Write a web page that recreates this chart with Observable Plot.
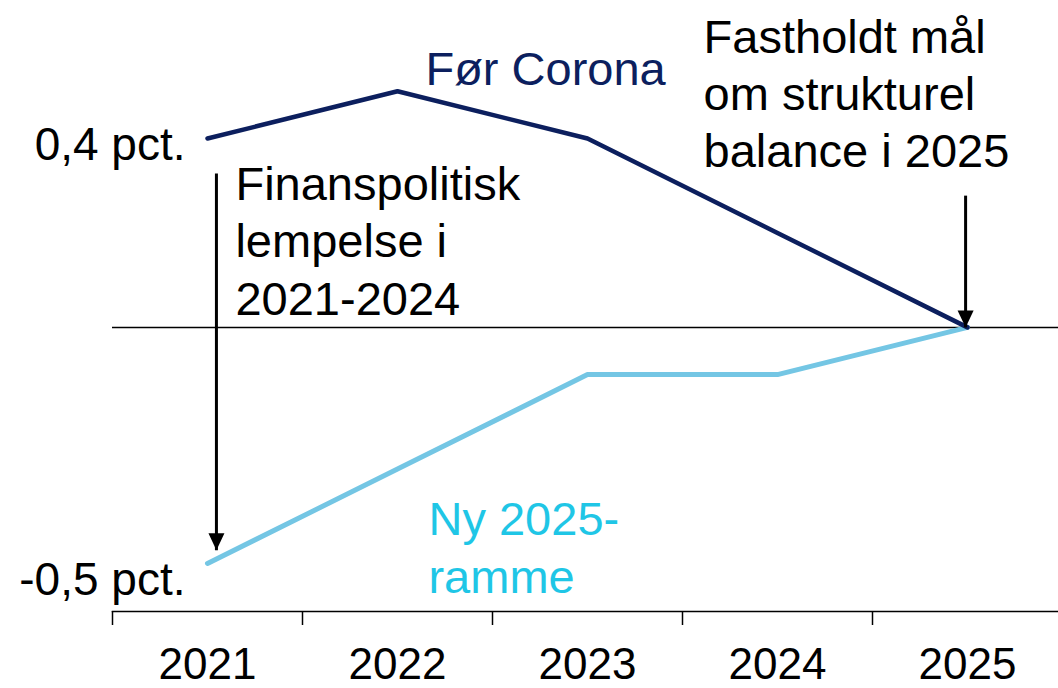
<!DOCTYPE html>
<html><head><meta charset="utf-8">
<script src="https://cdn.jsdelivr.net/npm/d3@7"></script>
<script src="https://cdn.jsdelivr.net/npm/@observablehq/plot@0.6"></script>
<style>
html,body{margin:0;padding:0;background:#fff;color:#000;}
</style>
</head><body><div id="chart"></div>
<script>
// ---- data ----
const years = [2021, 2022, 2023, 2024, 2025];
const forCorona = [0.4, 0.5, 0.4, 0.2, 0.0];
const ny2025 = [-0.5, -0.3, -0.1, -0.1, 0.0];
const seriesNames = ["Før Corona", "Ny 2025-ramme"];
const seriesLabels = ["Før Corona", "Ny 2025-\nramme"];
const yTickValues = [0.4, -0.5];
const yTickLabels = ["0,4 pct.", "-0,5 pct."];
const bandEdges = [2020.5, 2021.5, 2022.5, 2023.5, 2024.5, 2025.5];
// annotation anchors (data units)
const seriesLabelX = [2022.147, 2022.163];
const seriesLabelY = [0.600, -0.354];
const noteTexts = ["Finanspolitisk\nlempelse i\n2021-2024", "Fastholdt mål\nom strukturel\nbalance i 2025"];
const noteX = [2021.147, 2023.611];
const noteY = [0.356, 0.668];
const arrowX = [2021.047, 2024.99];
const arrowFrom = [0.326, 0.279];
const arrowTo = [-0.472, 0.0];

// ---- tables ----
const rowsA = years.map((yr, i) => ({year: yr, value: forCorona[i], series: seriesNames[0]}));
const rowsB = years.map((yr, i) => ({year: yr, value: ny2025[i], series: seriesNames[1]}));
const yLab = yTickValues.map((v, i) => ({value: v, label: yTickLabels[i], year: years[0]}));
const sLab = seriesLabels.map((t, i) => ({text: t, x: seriesLabelX[i], y: seriesLabelY[i]}));
const notes = noteTexts.map((t, i) => ({text: t, x: noteX[i], y: noteY[i]}));
const arrows = arrowX.map((x, i) => ({x, y1: arrowFrom[i], y2: arrowTo[i]}));

const NAVY = "#0c1f5e";
const LIGHT = "#74c6e4";
const CYAN = "#1fc6e6";

const headDown = {
  draw(ctx) {
    ctx.moveTo(0, 0);
    ctx.lineTo(-8, -17);
    ctx.lineTo(8, -17);
    ctx.closePath();
  }
};

const chart = Plot.plot({
  width: 1058,
  height: 688,
  marginLeft: 112,
  marginRight: 0,
  marginTop: 0,
  marginBottom: 77,
  style: {fontFamily: "'Liberation Sans', Arial, sans-serif", background: "#fff", color: "#000"},
  x: {type: "linear", domain: [2020.5, 2025.5], range: [112, 1062], axis: null, label: null},
  y: {domain: [-0.5, 0.4], range: [563, 138], axis: null, label: null},
  marks: [
    Plot.ruleY([0], {stroke: "#000", strokeWidth: 1.5}),
    Plot.frame({anchor: "bottom", stroke: "#000", strokeWidth: 1.5}),
    Plot.axisX({ticks: bandEdges, tickSize: 14, tickFormat: () => "", strokeWidth: 1.5}),
    Plot.axisX({ticks: years, tickSize: 0, tickPadding: 36, tickFormat: d => String(d), fontSize: 44, fill: "#000"}),
    Plot.line(rowsB, {x: "year", y: "value", stroke: LIGHT, strokeWidth: 5}),
    Plot.line(rowsA, {x: "year", y: "value", stroke: NAVY, strokeWidth: 4.5}),
    Plot.text(yLab.slice(0, 1), {x: "year", y: "value", text: "label", textAnchor: "end", dx: -22, dy: 7, fontSize: 46, fill: "#000"}),
    Plot.text(yLab.slice(1), {x: "year", y: "value", text: "label", textAnchor: "end", dx: -22, dy: 17, fontSize: 46, fill: "#000"}),
    Plot.text(sLab, {x: "x", y: "y", text: "text", textAnchor: "start", lineAnchor: "top", lineHeight: 1.22, fontSize: 47, fill: (d, i) => i === 0 ? NAVY : CYAN}),
    Plot.text(notes, {x: "x", y: "y", text: "text", textAnchor: "start", lineAnchor: "top", lineHeight: 1.22, fontSize: 47, fill: "#000"}),
    Plot.link(arrows, {x1: "x", x2: "x", y1: "y1", y2: "y2", stroke: "#000", strokeWidth: 3}),
    Plot.dot(arrows, {x: "x", y: "y2", symbol: headDown, fill: "#000", stroke: "none", r: 5})
  ]
});
document.getElementById("chart").appendChild(chart);
</script>
</body></html>
